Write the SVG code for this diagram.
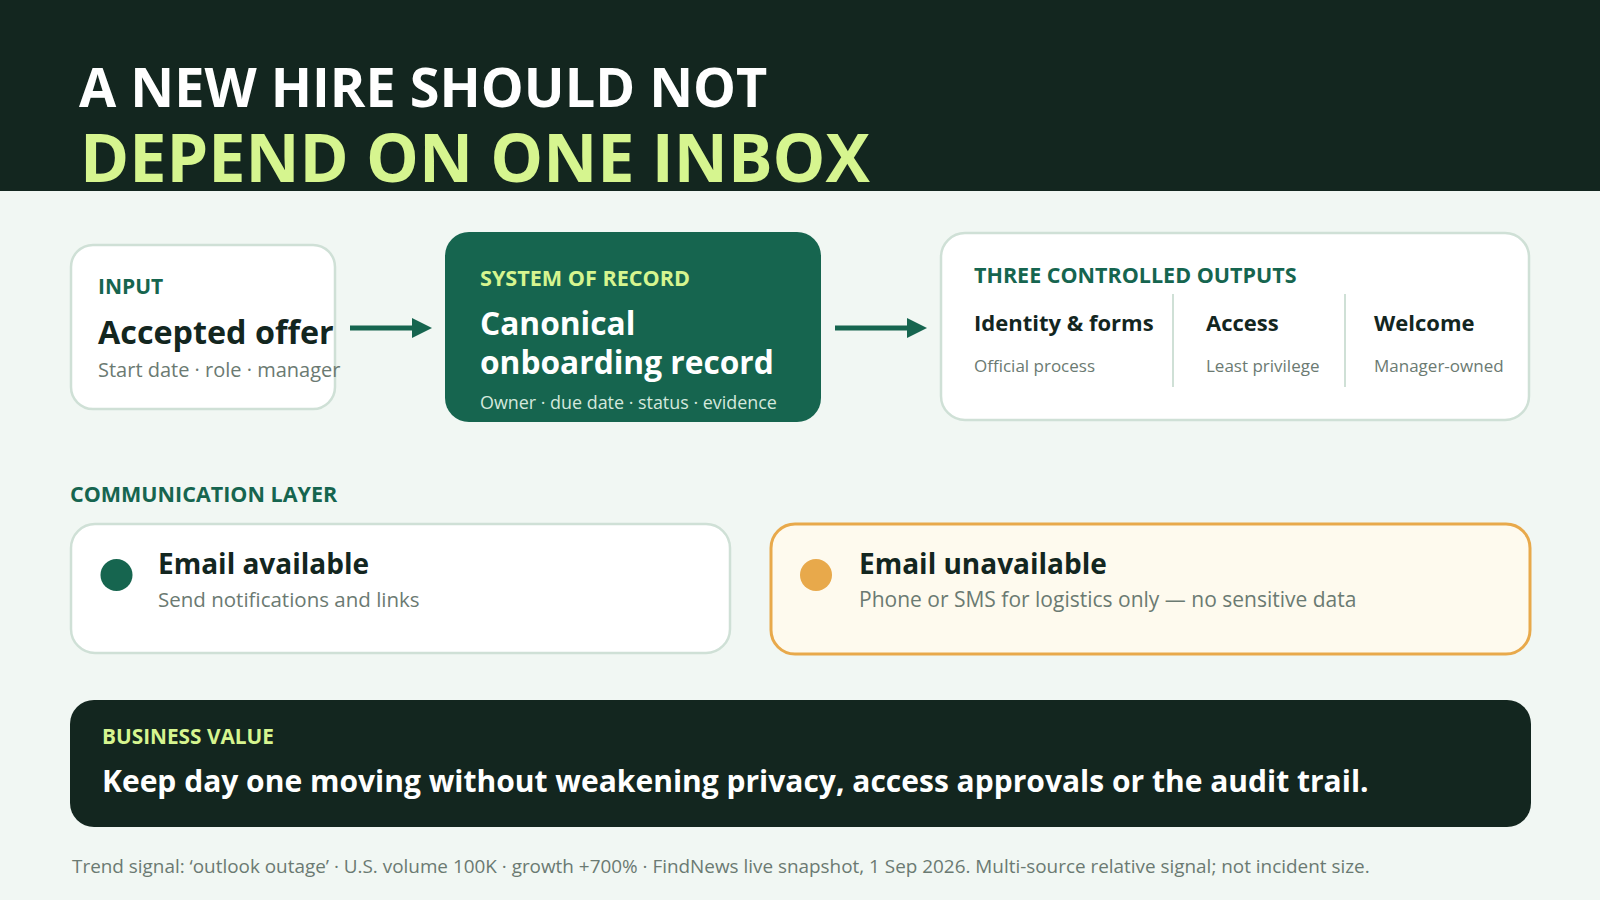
<svg xmlns="http://www.w3.org/2000/svg" width="1600" height="900" viewBox="0 0 1600 900">
<defs>
<marker id="ah" viewBox="0 0 10 10" refX="0" refY="5" markerWidth="4" markerHeight="5" markerUnits="strokeWidth" orient="auto">
<path d="M0,0 L10,5 L0,10 Z" fill="#16654f"/>
</marker>
<style>
text{font-family:"Open Sans","Noto Sans","Liberation Sans",sans-serif}
.b{font-weight:700}
.lab{font-size:21px;font-weight:700;fill:#16654f}
.card{fill:#ffffff;stroke:#cfe0d6;stroke-width:2.5}
.dark{fill:#13261f}
.sub{fill:#6b7a72}
.conn{stroke:#16654f;stroke-width:5;fill:none}
</style>
</defs>
<rect width="1600" height="900" fill="#f1f7f3"/>
<g id="header">
<rect width="1600" height="191" fill="#13261f"/>
<text x="79" y="107" class="b" font-size="54" fill="#ffffff">A NEW HIRE SHOULD NOT</text>
<text x="80" y="182" class="b" font-size="66.5" fill="#d6f58f">DEPEND ON ONE INBOX</text>
</g>
<g id="input">
<rect x="71" y="245" width="264" height="164" rx="22" class="card"/>
<text x="98" y="294" class="lab">INPUT</text>
<text x="98" y="344" class="b dark" font-size="32.3">Accepted offer</text>
<text x="98" y="377" class="sub" font-size="20">Start date · role · manager</text>
</g>
<g id="record">
<rect x="445" y="232" width="376" height="190" rx="24" fill="#16654f"/>
<text x="480" y="286" class="lab" style="fill:#d6f58f;font-size:21.6px">SYSTEM OF RECORD</text>
<text x="480" y="335" class="b" font-size="31.7" fill="#ffffff">Canonical</text>
<text x="480" y="374" class="b" font-size="31.7" fill="#ffffff">onboarding record</text>
<text x="480" y="409" font-size="17.9" fill="#d4e8dd">Owner · due date · status · evidence</text>
</g>
<g id="outputs">
<rect x="941" y="233" width="588" height="187" rx="24" class="card"/>
<text x="974" y="283" class="lab" style="font-size:21.5px">THREE CONTROLLED OUTPUTS</text>
<line x1="1173" y1="294" x2="1173" y2="387" stroke="#cfe0d6" stroke-width="2"/>
<line x1="1345" y1="294" x2="1345" y2="387" stroke="#cfe0d6" stroke-width="2"/>
<text x="974" y="331" class="b dark" font-size="22">Identity &amp; forms</text>
<text x="974" y="372" class="sub" font-size="17">Official process</text>
<text x="1206" y="331" class="b dark" font-size="22">Access</text>
<text x="1206" y="372" class="sub" font-size="17">Least privilege</text>
<text x="1374" y="331" class="b dark" font-size="22">Welcome</text>
<text x="1374" y="372" class="sub" font-size="17">Manager-owned</text>
</g>
<g id="connectors">
<line x1="350" y1="328" x2="412" y2="328" class="conn" marker-end="url(#ah)"/>
<line x1="835" y1="328" x2="907" y2="328" class="conn" marker-end="url(#ah)"/>
</g>
<g id="layer-label">
<text x="70" y="502" class="lab" style="font-size:21.5px">COMMUNICATION LAYER</text>
</g>
<g id="email-available">
<rect x="71" y="524" width="659" height="129" rx="24" class="card"/>
<circle cx="116.5" cy="575" r="16" fill="#16654f"/>
<text x="158" y="574" class="b dark" font-size="28">Email available</text>
<text x="158" y="607" class="sub" font-size="20.5">Send notifications and links</text>
</g>
<g id="email-unavailable">
<rect x="771" y="524" width="759" height="130" rx="24" fill="#fefaee" stroke="#e8a94b" stroke-width="3"/>
<circle cx="816" cy="575" r="16" fill="#e8a94b"/>
<text x="859" y="574" class="b dark" font-size="28">Email unavailable</text>
<text x="859" y="607" class="sub" font-size="21">Phone or SMS for logistics only — no sensitive data</text>
</g>
<g id="business-value">
<rect x="70" y="700" width="1461" height="127" rx="24" fill="#13261f"/>
<text x="102" y="744" class="lab" style="fill:#d6f58f;font-size:20.8px">BUSINESS VALUE</text>
<text x="102" y="792" class="b" font-size="30" fill="#ffffff">Keep day one moving without weakening privacy, access approvals or the audit trail.</text>
</g>
<g id="footer">
<text x="72" y="873" class="sub" font-size="18.9">Trend signal: ‘outlook outage’ · U.S. volume 100K · growth +700% · FindNews live snapshot, 1 Sep 2026. Multi-source relative signal; not incident size.</text>
</g>
</svg>
